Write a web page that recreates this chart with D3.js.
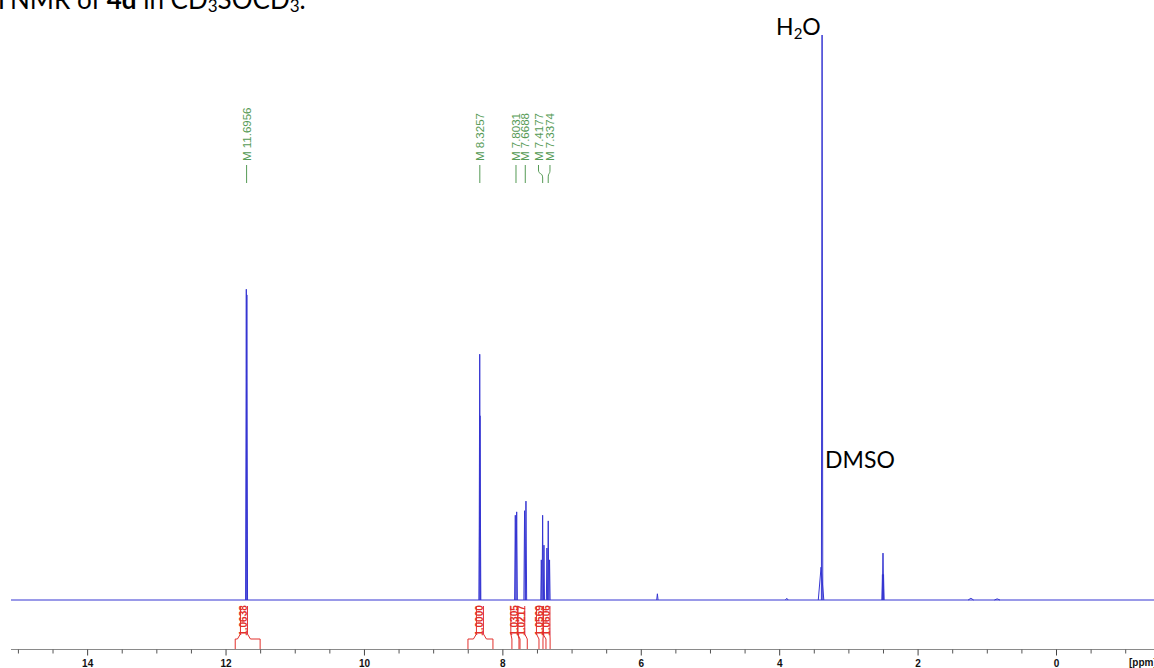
<!DOCTYPE html>
<html><head><meta charset="utf-8">
<script src="https://cdn.jsdelivr.net/npm/d3@7"></script>
<style>
html,body{margin:0;padding:0;background:#fff;overflow:hidden}
svg{display:block}
</style></head>
<body>
<svg id="c" width="1154" height="668"></svg>
<script>
// ---------- data ----------
// spectrum lines: chemical shift (ppm), intensity (% of tallest), half base width (ppm)
const peakPpm    = [11.700, 11.692, 8.327, 8.323, 7.813, 7.793, 7.679, 7.659, 7.437, 7.418, 7.399, 7.356, 7.337, 7.318, 5.760, 3.395, 3.380, 2.508, 2.500, 2.492, 1.230, 0.850, 3.890];
const peakHeight = [55.0,   54.0,   43.5,  32.6,  15.0,  15.6,  15.8,  17.5,  7.1,   15.0,  9.7,   9.2,   14.0,  7.1,   1.1,   5.8,   100,   4.5,   8.3,   4.5,   0.3,   0.2,   0.3];
const peakHalfW  = [0.010,  0.010,  0.010, 0.012, 0.010, 0.010, 0.010, 0.010, 0.008, 0.008, 0.008, 0.008, 0.008, 0.008, 0.010, 0.040, 0.010, 0.008, 0.010, 0.008, 0.040, 0.040, 0.020];

// peak pick labels (green)
const pickLabels   = ["M 11.6956", "M 8.3257", "M 7.8031", "M 7.6688", "M 7.4177", "M 7.3374"];
const pickPpm      = [11.6956, 8.3257, 7.8031, 7.6688, 7.4177, 7.3374];
const pickLabelPpm = [11.6956, 8.3257, 7.8031, 7.6688, 7.478, 7.312];

// integrals (red)
const integralLabels = ["1.0638", "1.0000", "1.0305", "1.0217", "1.0569", "1.0606"];
const integralCenter = [11.734, 8.324, 7.827, 7.727, 7.457, 7.363];
const integralFrom   = [11.86, 8.497, 7.862, 7.745, 7.471, 7.370];
const integralTo     = [11.50, 8.136, 7.760, 7.640, 7.413, 7.310];

// axis ticks
const majorTicks = [14, 12, 10, 8, 6, 4, 2, 0];
const minorTicks = [15, 14.5, 13.5, 13, 12.5, 11.5, 11, 10.5, 9.5, 9, 8.5, 7.5, 7, 6.5, 5.5, 5, 4.5, 3.5, 3, 2.5, 1.5, 1, 0.5, -0.5, -1];

// ---------- drawing ----------
const svg = d3.select("#c");
const W = 1154, H = 668;
const x = d3.scaleLinear().domain([15.1, -1.416]).range([11, 1154]);
const y = d3.scaleLinear().domain([0, 100]).range([600, 35]);

const blue = "#3535d2", red = "#e2302c", green = "#559a55";

// title (clipped at top of picture, as in the source figure)
const title = svg.append("text").attr("x", 10).attr("y", 9)
  .attr("font-family", "Lato").attr("font-size", 26).attr("fill", "#000");
title.append("tspan").text("NMR of ");
title.append("tspan").attr("font-weight", "bold").text("4d");
title.append("tspan").text(" in CD");
title.append("tspan").attr("font-size", 17).attr("dy", 3).text("3");
title.append("tspan").attr("dy", -3).text("SOCD");
title.append("tspan").attr("font-size", 17).attr("dy", 3).text("3");
title.append("tspan").attr("dy", -3).text(".");
svg.append("text").attr("x", 5).attr("y", 9).attr("text-anchor", "end")
  .attr("font-family", "Lato").attr("font-size", 26).text("H");

// baseline
const line = d3.line().x(d => x(d[0])).y(d => y(d[1]));
svg.append("path").attr("d", line([[15.1, 0], [-1.416, 0]]))
  .attr("stroke", blue).attr("stroke-width", 1).attr("fill", "none");

// peaks
const g = svg.append("g");
peakPpm.forEach((p, i) => {
  const w = peakHalfW[i];
  g.append("path").attr("d", line([[p + w, 0], [p, peakHeight[i]], [p - w, 0]]))
    .attr("stroke", blue).attr("stroke-width", 1).attr("fill", "none");
});

// solvent labels
const hx = x(3.38);
const h2o = svg.append("text").attr("x", hx - 46).attr("y", 35)
  .attr("font-family", "Lato").attr("font-size", 23).attr("fill", "#000");
h2o.append("tspan").text("H");
h2o.append("tspan").attr("font-size", 15).attr("dy", 4).text("2");
h2o.append("tspan").attr("dy", -4).text("O");
svg.append("text").attr("x", hx + 3).attr("y", 468)
  .attr("font-family", "Lato").attr("font-size", 23).attr("fill", "#000").text("DMSO");

// peak pick labels
pickLabels.forEach((t, i) => {
  const lx = x(pickLabelPpm[i]), px = x(pickPpm[i]);
  svg.append("text")
    .attr("transform", `translate(${lx},161) rotate(-90)`)
    .attr("dy", "0.35em")
    .attr("font-family", "Liberation Sans, Arial, sans-serif")
    .attr("font-size", 11.5).attr("fill", green).text(t);
  const p = d3.path();
  p.moveTo(lx, 165); p.lineTo(lx, 170);
  if (Math.abs(px - lx) > 0.8) { p.bezierCurveTo(lx, 175, px, 172, px, 178); }
  else { p.lineTo(px, 178); }
  p.lineTo(px, 183);
  svg.append("path").attr("d", p.toString()).attr("stroke", green)
    .attr("stroke-width", 1).attr("fill", "none");
});

// integrals
integralLabels.forEach((t, i) => {
  const cx = x(integralCenter[i]);
  const bl = cx - 3.5, br = cx + 3.5;
  const rl = x(integralFrom[i]), rr = x(integralTo[i]);
  const p = d3.path();
  p.moveTo(bl, 606); p.lineTo(bl, 634);
  if (rl < bl - 3) { p.lineTo(bl - 3, 639); p.lineTo(rl, 639); } else { p.lineTo(rl, 639); }
  p.lineTo(rl, 649);
  p.moveTo(br, 606); p.lineTo(br, 634);
  if (rr > br + 3) { p.lineTo(br + 3, 639); p.lineTo(rr, 639); } else { p.lineTo(rr, 639); }
  p.lineTo(rr, 649);
  svg.append("path").attr("d", p.toString()).attr("stroke", red)
    .attr("stroke-width", 1).attr("fill", "none");
  svg.append("text")
    .attr("transform", `translate(${cx},620.5) rotate(-90)`)
    .attr("dy", "0.35em").attr("text-anchor", "middle")
    .attr("font-family", "Liberation Sans, Arial, sans-serif")
    .attr("font-weight", "bold").attr("font-size", 10).attr("fill", red).text(t);
});

// axis
const axisY = 649.5;
svg.append("line").attr("x1", 11).attr("x2", W).attr("y1", axisY).attr("y2", axisY)
  .attr("stroke", "#8a8a8a").attr("stroke-width", 1);
const axis = d3.axisBottom(x).tickValues(majorTicks).tickSize(6).tickPadding(4)
  .tickFormat(d3.format("d"));
const ag = svg.append("g").attr("transform", `translate(0,${axisY})`).call(axis);
ag.select(".domain").remove();
ag.selectAll(".tick line").attr("stroke", "#444");
ag.selectAll(".tick text").attr("font-family", "Liberation Sans, Arial, sans-serif")
  .attr("font-weight", "bold").attr("font-size", 10).attr("fill", "#111");
const minor = d3.axisBottom(x).tickValues(minorTicks).tickSize(4).tickFormat("");
const mg = svg.append("g").attr("transform", `translate(0,${axisY})`).call(minor);
mg.select(".domain").remove();
mg.selectAll(".tick line").attr("stroke", "#555");
svg.append("text").attr("x", 1129).attr("y", 666)
  .attr("font-family", "Liberation Sans, Arial, sans-serif")
  .attr("font-weight", "bold").attr("font-size", 10).attr("fill", "#111").text("[ppm]");
</script>
</body></html>
